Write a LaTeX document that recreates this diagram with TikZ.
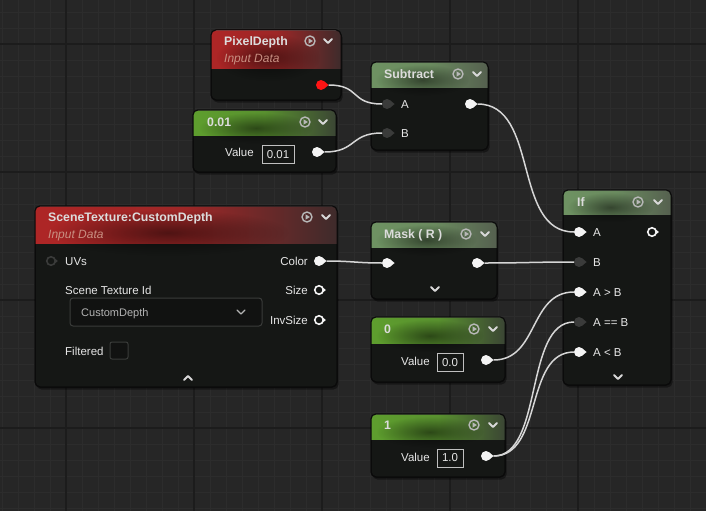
\documentclass[tikz,border=0pt]{standalone}
\usepackage{fontspec}
\setmainfont{Liberation Sans}
\usetikzlibrary{calc,fadings}

\definecolor{bgc}{HTML}{262626}
\definecolor{minorc}{HTML}{2C2C2C}
\definecolor{majorc}{HTML}{1C1C1C}
\definecolor{bodyc}{HTML}{151715}
\definecolor{edgec}{HTML}{0A0A0A}
\definecolor{wirec}{HTML}{D6D6D6}
\definecolor{pinw}{HTML}{F4F4F4}
\definecolor{pind}{HTML}{3A3B3A}
\definecolor{pinr}{HTML}{FF1414}
\definecolor{txt}{HTML}{E6E6E6}
\definecolor{titlec}{HTML}{DCDCDC}
\definecolor{subc}{HTML}{C98F82}
\definecolor{dropc}{HTML}{B4B4B4}
\definecolor{vboxc}{HTML}{C0C0C0}
\definecolor{iconc}{HTML}{D8D8D8}
\definecolor{ddedge}{HTML}{3A3C3A}
\definecolor{redL}{HTML}{AE2626}
\definecolor{redR}{HTML}{3E2B2B}
\definecolor{grnL}{HTML}{6E9262}
\definecolor{grnR}{HTML}{55604F}
\definecolor{cstL}{HTML}{5E9E2E}
\definecolor{cstR}{HTML}{3B4634}

\tikzfading[name=blobfade, inner color=transparent!0, outer color=transparent!100]

\tikzset{
  body/.style={fill=bodyc, draw=edgec, line width=1pt, rounded corners=5pt, inner sep=0pt, outer sep=0pt, anchor=north west},
  pinbase/.style={circle, inner sep=0pt, outer sep=0pt, minimum size=10pt},
  pinfull/.style={pinbase, fill=pinw},
  pindark/.style={pinbase, fill=pind},
  pinhollow/.style={pinbase, minimum size=8.5pt, draw=pinw, line width=1.6pt, fill=bodyc},
  pinhollowd/.style={pinbase, minimum size=8.5pt, draw=pind, line width=1.6pt, fill=bodyc},
  pinred/.style={pinbase, fill=pinr},
  wire/.style={draw=wirec, line width=1.5pt},
  ttl/.style={anchor=base west, yshift=-4.4pt, inner sep=0pt, text=titlec, font=\fontsize{12.3}{14}\selectfont\bfseries},
  subt/.style={anchor=base west, yshift=-4.2pt, inner sep=0pt, text=subc, font=\fontsize{12}{14}\selectfont\itshape},
  lbl/.style={anchor=base west, yshift=-4.2pt, inner sep=0pt, text=txt, font=\fontsize{11.5}{13}\selectfont},
  lblr/.style={lbl, anchor=base east},
  vbox/.style={draw=vboxc, line width=0.9pt, inner sep=0pt, minimum width=#1, minimum height=18pt, text=txt, font=\fontsize{11.5}{13}\selectfont},
  icon/.style={draw=iconc, line width=1.6pt, line cap=round, line join=round},
}

\newcommand{\uenode}[8]{%
  \fill[black, opacity=.4, rounded corners=5pt] (#2+1.5,#3+2.5) rectangle ++(#4,#5);
  \node[body, minimum width=#4pt, minimum height=#5pt] (#1) at (#2,#3) {};
  \begin{scope}
    \clip[rounded corners=5pt] (#2,#3) rectangle ++(#4,#5);
    \shade[left color=#7, right color=#8, middle color=#7!85!#8] (#2,#3) rectangle ++(#4,#6);
    \fill[black, opacity=.5, path fading=blobfade] (#2+0.44*#4,#3+0.72*#6) ellipse [x radius=0.4*#4, y radius=0.62*#6];
    \draw[white, opacity=.2, line width=1pt] (#2,#3+0.8) -- ++(#4,0);
  \end{scope}
  \draw[edgec, line width=1pt, rounded corners=5pt] (#2,#3) rectangle ++(#4,#5);
}
\newcommand{\playicon}[2]{%
  \draw[icon, line width=1.4pt, draw=iconc!85!black] (#1,#2) circle [radius=5];
  \fill[iconc!85!black] (#1-1.5,#2-2.7) -- (#1+2.9,#2) -- (#1-1.5,#2+2.7) -- cycle;}
\newcommand{\chev}[2]{\draw[icon, line width=1.8pt] (#1-4,#2-2) -- (#1,#2+2) -- (#1+4,#2-2);}
\newcommand{\chevup}[2]{\draw[icon, line width=1.8pt] (#1-4,#2+2) -- (#1,#2-2) -- (#1+4,#2+2);}
\newcommand{\pintri}[2]{\fill[#2] ($(#1.east)+(-0.8,-2.8)$) -- ++(3.4,2.8) -- ++(-3.4,2.8) -- cycle;}

\begin{document}
\begin{tikzpicture}[x=1pt,y=-1pt]
\useasboundingbox (0,0) rectangle (706,511);
\fill[bgc] (0,0) rectangle (706,511);
% grid
\foreach \gx in {2,18,...,706} \draw[minorc, line width=0.8pt] (\gx,0) -- (\gx,511);
\foreach \gy in {12,28,...,511} \draw[minorc, line width=0.8pt] (0,\gy) -- (706,\gy);
\foreach \gx in {66,194,322,450,578} \draw[majorc, line width=1.6pt] (\gx,0) -- (\gx,511);
\foreach \gy in {44,172,300,428} \draw[majorc, line width=1.6pt] (0,\gy) -- (706,\gy);

% ---------- PixelDepth
\uenode{pd}{211}{30}{130}{70}{38}{redL}{redR}
\node[ttl] (pdT) at (224,41) {PixelDepth};
\node[subt] (pdS) at (224,58) {Input Data};
\playicon{310}{41}\chev{328}{41}
\node[pinred] (pdOut) at (321,85) {};
\pintri{pdOut}{pinr}

% ---------- Subtract
\uenode{sub}{371}{62}{117}{88}{25}{grnL}{grnR}
\node[ttl] (subT) at (384,74) {Subtract};
\playicon{458}{74}\chev{477}{74}
\node[pindark] (subA) at (387,104) {};\pintri{subA}{pind}
\node[pindark] (subB) at (387,133) {};\pintri{subB}{pind}
\node[pinfull] (subOut) at (470,104) {};\pintri{subOut}{pinw}
\node[lbl] (subAl) at (401,104) {A};
\node[lbl] (subBl) at (401,133) {B};

% ---------- 0.01
\uenode{cst}{193}{110}{143}{62}{25}{cstL}{cstR}
\node[ttl] (cstT) at (207,122) {0.01};
\playicon{305}{122}\chev{323}{122}
\node[lbl] (cstV) at (225,152) {Value};
\node[vbox=32pt] (cstB) at (278,154.5) {0.01};
\node[pinfull] (cstOut) at (317,152) {};\pintri{cstOut}{pinw}

% ---------- SceneTexture
\uenode{st}{35}{206}{302}{181}{37}{redL}{redR}
\node[ttl] (stT) at (48,217) {SceneTexture:CustomDepth};
\node[subt] (stS) at (48,234) {Input Data};
\playicon{307}{217}\chev{326}{217}
\node[pinhollowd] (stUV) at (51,261) {};\pintri{stUV}{pind}
\node[lbl] (stUVl) at (65,261) {UVs};
\node[pinfull] (stColor) at (319,261) {};\pintri{stColor}{pinw}
\node[pinhollow] (stSize) at (319,290) {};\pintri{stSize}{pinw}
\node[pinhollow] (stInv) at (319,320) {};\pintri{stInv}{pinw}
\node[lblr] (stColorl) at (308,261) {Color};
\node[lblr] (stSizel) at (308,290) {Size};
\node[lblr] (stInvl) at (308,320) {InvSize};
\node[lbl] (stIdl) at (65,290) {Scene Texture Id};
\node[draw=ddedge, line width=1pt, rounded corners=3pt, fill=bodyc!80!black, minimum width=192pt, minimum height=28pt, inner sep=0pt] (stDD) at (166,312) {};
\node[lbl, text=dropc, font=\fontsize{11}{13}\selectfont] (stDDt) at (81,312) {CustomDepth};
\draw[icon, line width=1.3pt, draw=dropc] (237,310) -- (241,314) -- (245,310);
\node[lbl] (stFl) at (65,351) {Filtered};
\node[draw=ddedge, line width=1pt, rounded corners=2pt, fill=bodyc!80!black, minimum width=18pt, minimum height=17pt, inner sep=0pt] (stCB) at (119,350.5) {};
\chevup{188}{378}

% ---------- Mask (R)
\uenode{mk}{371}{222}{126}{77}{25}{grnL}{grnR}
\node[ttl] (mkT) at (384,234) {Mask ( R )};
\playicon{466}{234}\chev{485}{234}
\node[pinfull] (mkIn) at (387,263) {};\pintri{mkIn}{pinw}
\node[pinfull] (mkOut) at (477,263) {};\pintri{mkOut}{pinw}
\chev{435}{289}

% ---------- 0
\uenode{czero}{371}{317}{134}{65}{26}{cstL}{cstR}
\node[ttl] (czT) at (384,329) {0};
\playicon{474}{329}\chev{493}{329}
\node[lbl] (czV) at (401,361) {Value};
\node[vbox=26pt] (czB) at (450,362.5) {0.0};
\node[pinfull] (czOut) at (486,360) {};\pintri{czOut}{pinw}

% ---------- 1
\uenode{cone}{371}{414}{134}{63}{25}{cstL}{cstR}
\node[ttl] (coT) at (384,425) {1};
\playicon{474}{425}\chev{493}{425}
\node[lbl] (coV) at (401,457) {Value};
\node[vbox=26pt] (coB) at (450,458) {1.0};
\node[pinfull] (coOut) at (486,456) {};\pintri{coOut}{pinw}

% ---------- If
\uenode{ifn}{563}{190}{108}{195}{24}{grnL}{grnR}
\node[ttl] (ifT) at (577,202) {If};
\playicon{638}{202}\chev{658}{202}
\node[pinfull] (ifA) at (579,232) {};\pintri{ifA}{pinw}
\node[pindark] (ifB) at (579,262) {};\pintri{ifB}{pind}
\node[pinfull] (ifGT) at (579,292) {};\pintri{ifGT}{pinw}
\node[pindark] (ifEQ) at (579,322) {};\pintri{ifEQ}{pind}
\node[pinfull] (ifLT) at (579,352) {};\pintri{ifLT}{pinw}
\node[pinhollow] (ifOut) at (652,232) {};\pintri{ifOut}{pinw}
\node[lbl] (ifAl) at (593,232) {A};
\node[lbl] (ifBl) at (593,262) {B};
\node[lbl] (ifGTl) at (593,292) {A > B};
\node[lbl] (ifEQl) at (593,322) {A == B};
\node[lbl] (ifLTl) at (593,352) {A < B};
\chev{618}{377}

% ---------- wires
\draw[wire] ($(pdOut.east)+(2.6,0)$) .. controls +(32,0) and +(-32,0) .. (subA.west);
\draw[wire] ($(cstOut.east)+(2.6,0)$) .. controls +(32,0) and +(-32,0) .. (subB.west);
\draw[wire] ($(subOut.east)+(2.6,0)$) .. controls +(62,0) and +(-62,0) .. (ifA.west);
\draw[wire] ($(stColor.east)+(2.6,0)$) .. controls +(25,0) and +(-25,0) .. (mkIn.west);
\draw[wire] ($(mkOut.east)+(2.6,0)$) .. controls +(40,0) and +(-40,0) .. (ifB.west);
\draw[wire] ($(czOut.east)+(2.6,0)$) .. controls +(45,0) and +(-45,0) .. (ifGT.west);
\draw[wire] ($(coOut.east)+(2.6,0)$) .. controls +(50,0) and +(-50,0) .. (ifEQ.west);
\draw[wire] ($(coOut.east)+(2.6,0)$) .. controls +(50,0) and +(-50,0) .. (ifLT.west);
\end{tikzpicture}
\end{document}
